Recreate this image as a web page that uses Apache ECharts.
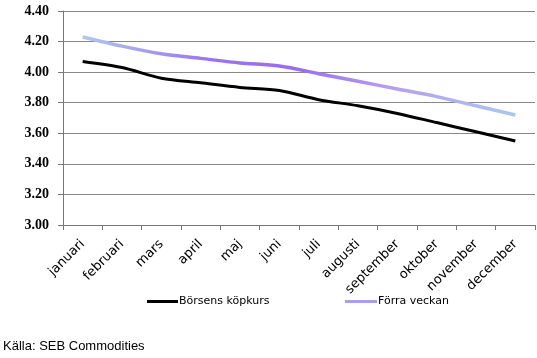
<!DOCTYPE html>
<html><head><meta charset="utf-8">
<script src="https://cdn.jsdelivr.net/npm/echarts@6/dist/echarts.min.js"></script>
<style>html,body{margin:0;padding:0;background:#fff}#c{width:537px;height:358px}</style>
</head><body><div id="c"></div>
<script>
var months = ['januari','februari','mars','april','maj','juni','juli','augusti','september','oktober','november','december'];
var borsens = [4.07,4.03,3.96,3.93,3.90,3.88,3.82,3.78,3.73,3.67,3.61,3.55];
var forra = [4.23,4.17,4.12,4.09,4.06,4.04,3.99,3.94,3.89,3.84,3.78,3.72];
var seriesNames = ['Börsens köpkurs','Förra veckan'];
var chart = echarts.init(document.getElementById('c'));
var legTxt = {fontFamily:'DejaVu Sans',fontSize:11,color:'#000',padding:[0,0,0,-4]};
chart.setOption({
  animation:false,
  backgroundColor:'#fff',
  grid:{left:63,right:2,top:11,bottom:133},
  legend:[
    {top:291,left:142,itemWidth:31,itemHeight:3,icon:'rect',textStyle:legTxt,
     data:[{name:seriesNames[0],itemStyle:{color:'#000'}}]},
    {top:291,left:340,itemWidth:32,itemHeight:3,icon:'rect',textStyle:legTxt,
     data:[{name:seriesNames[1],itemStyle:{color:'#ab9cf0'}}]}
  ],
  graphic:[{type:'text',left:3,top:340,style:{text:'Källa: SEB Commodities',font:'13px "Liberation Sans"',fill:'#000'}}],
  xAxis:{
    type:'category',data:months,boundaryGap:true,
    axisLine:{lineStyle:{color:'#777'}},
    axisTick:{show:true,length:5,lineStyle:{color:'#777'}},
    axisLabel:{rotate:45,fontFamily:'DejaVu Sans',fontSize:13,color:'#000',margin:17}
  },
  yAxis:{
    type:'value',min:3,max:4.4,interval:0.2,
    axisLine:{show:true,lineStyle:{color:'#777'}},
    axisTick:{show:true,length:5,lineStyle:{color:'#777'}},
    splitLine:{lineStyle:{color:'#888',width:1}},
    axisLabel:{formatter:function(v){return v.toFixed(2);},fontFamily:'Liberation Serif',fontWeight:'bold',fontSize:14,color:'#000',margin:14}
  },
  series:[
    {name:seriesNames[0],type:'line',data:borsens,smooth:0.3,showSymbol:false,lineStyle:{color:'#000',width:3},itemStyle:{color:'#000'}},
    {name:seriesNames[1],type:'line',data:forra,smooth:0.3,showSymbol:false,
      lineStyle:{width:3.5,color:new echarts.graphic.LinearGradient(0,0,1,0,[
        {offset:0,color:'#aecbf0'},{offset:0.3,color:'#9c72ee'},{offset:0.5,color:'#9a6cee'},{offset:0.7,color:'#b89cf0'},{offset:1,color:'#a9c8f0'}])},
      itemStyle:{color:'#ab9cf0'}}
  ]
});
</script></body></html>
